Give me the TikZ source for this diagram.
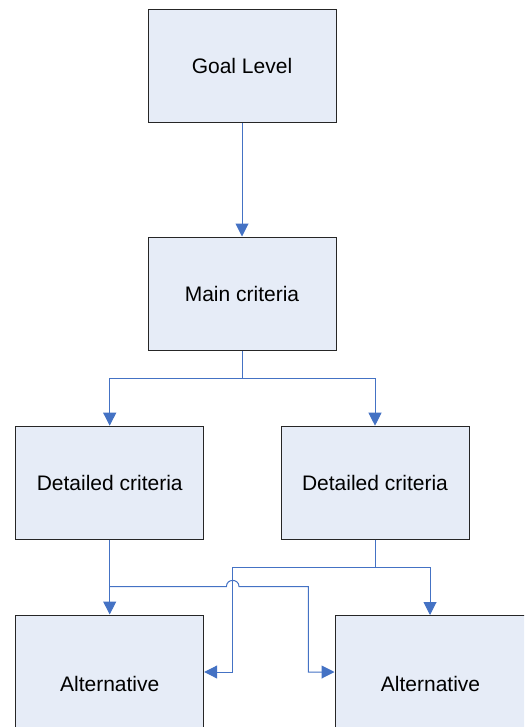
\documentclass[tikz,border=0pt]{standalone}
\usepackage{fontspec}
\setmainfont{Liberation Sans}
\usetikzlibrary{arrows.meta}
\definecolor{boxfill}{HTML}{E6ECF7}
\definecolor{linkblue}{HTML}{4472C4}
\tikzset{
  box/.style={draw=black!85, fill=boxfill, line width=1pt, minimum width=188pt,
    minimum height=113pt, inner sep=0pt, font=\fontsize{21}{25}\selectfont},
  altbox/.style={box, minimum height=138pt},
  link/.style={draw=linkblue, line width=1pt},
  linkarrow/.style={link, -{Triangle[length=13pt,width=13pt]}, color=linkblue}
}
\begin{document}
\begin{tikzpicture}[x=1pt,y=-1pt]
\useasboundingbox (0,0) rectangle (524,727);
\begin{scope}
\clip (0,0) rectangle (524,727);
\node[box] (goal) at (242,66.2) {Goal Level};
\node[box] (main) at (242,293.5) {Main criteria};
\node[box] (det1) at (109.7,482.7) {Detailed criteria};
\node[box] (det2) at (375,482.7) {Detailed criteria};
\node[altbox] (alt1) at (109.7,684) {Alternative};
\node[altbox,minimum width=191pt] (alt2) at (430.5,684) {Alternative};

\coordinate (split) at (242,378.3);
\coordinate (y672) at (0,672);
\coordinate (j1) at (109.7,586.7);
\coordinate (h1) at (226.4,586.7);
\coordinate (h2) at (239,586.7);
\coordinate (p1) at (308.3,586.7);
\coordinate (j2) at (375,567.7);
\coordinate (k2) at (232.7,567.7);
\coordinate (a2top) at (430,615);

\draw[linkarrow] (goal) -- (main);
\draw[link] (main.south) -- (split);
\draw[linkarrow] (split) -| (det1.north);
\draw[linkarrow] (split) -| (det2.north);

\draw[linkarrow] (det1.south) -- (alt1.north);
\draw[linkarrow] (j1) -- (h1) .. controls (226.4,578.3) and (239,578.3) .. (h2) -- (p1) |- (alt2.west |- y672);

\draw[link] (det2.south) -- (j2);
\draw[linkarrow] (j2) -| (a2top);
\draw[linkarrow] (j2) -- (k2) |- (alt1.east |- y672);
\end{scope}
\end{tikzpicture}
\end{document}
